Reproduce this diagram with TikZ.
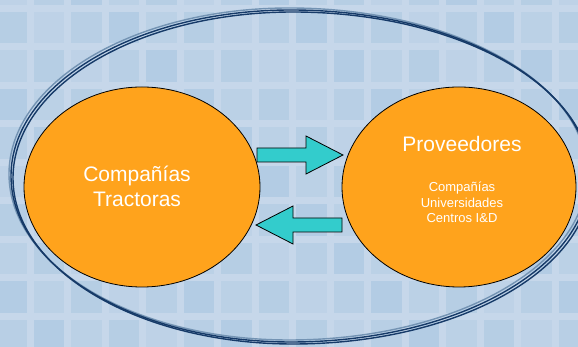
\documentclass[tikz,border=0pt]{standalone}
\usepackage{fontspec}
\setmainfont{Liberation Sans}
\usetikzlibrary{shapes.geometric,calc}
\definecolor{bgline}{HTML}{C6D7EA}
\definecolor{bgsq}{HTML}{AEC9E2}
\definecolor{orng}{HTML}{FFA31C}
\definecolor{turq}{HTML}{33CCCC}
\definecolor{navy}{HTML}{163A68}
\definecolor{steel}{HTML}{7393B3}
\begin{document}
\begin{tikzpicture}[x=1pt,y=1pt,
  party/.style={ellipse, draw=black, line width=0.8pt, fill=orng, minimum width=236pt, minimum height=200pt, inner sep=0pt},
  bigtext/.style={text=white, align=center, font=\fontsize{21}{25}\selectfont, inner sep=0pt},
  smalltext/.style={text=white, align=center, font=\fontsize{13}{15.5}\selectfont, inner sep=0pt},
  blockarrow/.style={draw=black, line width=0.8pt, fill=turq, line join=miter},
  ring/.style={line width=1.4pt}]
\useasboundingbox (0,0) rectangle (578,347);
\clip (0,0) rectangle (578,347);
\fill[bgline] (0,0) rectangle (578,347);
\foreach \i in {-1,...,15}{
  \foreach \j in {-1,...,9}{
    \pgfmathtruncatemacro\pct{35+11*mod(\i*7+\j*13+20,5)}
    \fill[bgsq!\pct!bgline] (30+37.5*\i+3.5, 338.5-38.5*\j-3.5) rectangle (30+37.5*\i+34, 338.5-38.5*\j-35);
  }
}
% outer ring
\coordinate (oc) at (293,169);
\foreach \dx/\dy/\col in {-4/4/steel, -2/2/navy, 0/0/navy}{
  \draw[ring, \col] ($(oc)+(\dx,\dy)+(0,166)$)
     arc[start angle=90, end angle=270, x radius=280, y radius=166]
     arc[start angle=270, end angle=450, x radius=298, y radius=166];
}
% circles
\node[party] (L) at (142,160) {};
\node[party, minimum width=234pt] (R) at (459,160) {};
% arrows
\coordinate (ta) at (257,192);
\coordinate (tb) at (343,192);
\draw[blockarrow] ($(ta)+(0,7)$) -- ($(tb)+(-37,7)$) -- ($(tb)+(-37,19)$) -- (tb)
   -- ($(tb)+(-37,-19)$) -- ($(tb)+(-37,-7)$) -- ($(ta)+(0,-7)$) -- cycle;
\coordinate (ba) at (342,122);
\coordinate (bb) at (256,122);
\draw[blockarrow] ($(ba)+(0,7)$) -- ($(bb)+(37,7)$) -- ($(bb)+(37,19)$) -- (bb)
   -- ($(bb)+(37,-19)$) -- ($(bb)+(37,-7)$) -- ($(ba)+(0,-7)$) -- cycle;
% texts
\node[bigtext] (Ltext) at (137,160.5) {Compañías\\Tractoras};
\node[bigtext, anchor=base] (Rtitle) at (462,195) {Proveedores};
\node[smalltext] (Rlist) at (462,144.25) {Compañías\\Universidades\\Centros I\&D};
\end{tikzpicture}
\end{document}
